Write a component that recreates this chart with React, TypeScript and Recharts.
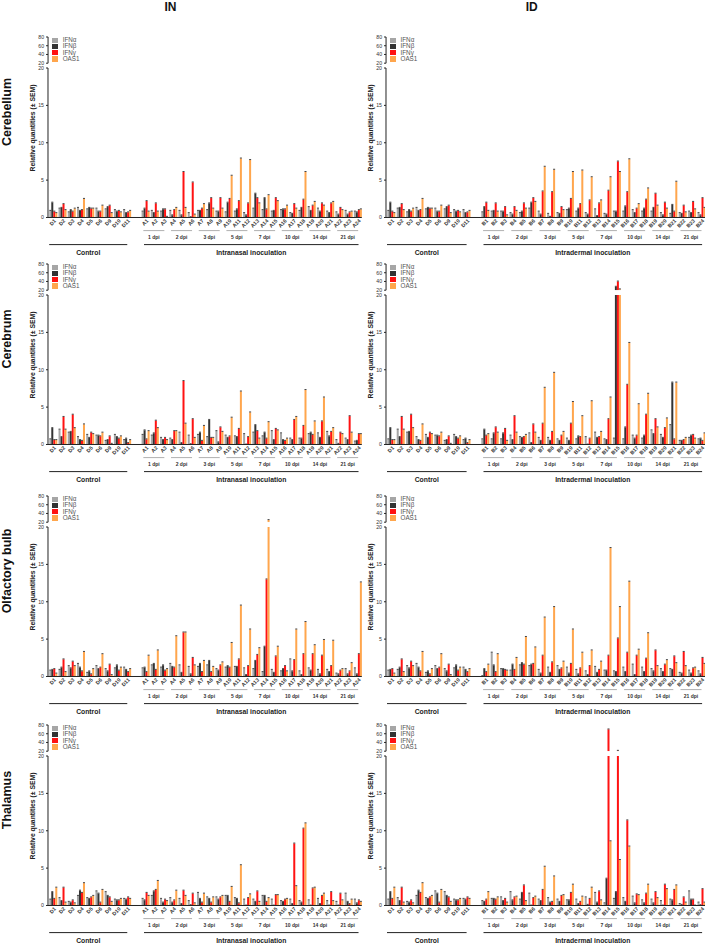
import React from "react";
import { BarChart, Bar, XAxis, YAxis } from "recharts";

// category labels
const ctrlCats = ["D1", "D2", "D3", "D4", "D5", "D6", "D9", "D10", "D11"];
const inCats = ["A1", "A2", "A3", "A4", "A5", "A6", "A7", "A8", "A9", "A10", "A11", "A12",
  "A13", "A14", "A15", "A16", "A17", "A18", "A19", "A20", "A21", "A22", "A23", "A24"];
const idCats = ["B1", "B2", "B3", "B4", "B5", "B6", "B7", "B8", "B9", "B10", "B11", "B12",
  "B13", "B14", "B15", "B16", "B17", "B18", "B19", "B20", "B21", "B22", "B23", "B24"];
const dpiGroups = ["1 dpi", "2 dpi", "3 dpi", "5 dpi", "7 dpi", "10 dpi", "14 dpi", "21 dpi"];
const lowerTicks = [0, 5, 10, 15, 20];
const upperTicks = [20, 40, 60, 80];

const SERIES = [
  { name: "IFNα", color: "#a6a6a6" },
  { name: "IFNβ", color: "#333333" },
  { name: "IFNγ", color: "#ff1212" },
  { name: "OAS1", color: "#ffa64d" },
];

// Cerebellum
const cbCtrlA = [0.9, 1.2, 0.7, 1.3, 1.1, 1.2, 1.1, 1.0, 1.0];
const cbCtrlB = [2.0, 1.3, 1.0, 0.9, 1.3, 0.8, 1.4, 0.8, 0.6];
const cbCtrlG = [0.8, 1.8, 0.8, 1.0, 1.2, 0.8, 1.6, 0.9, 0.7];
const cbCtrlO = [0.6, 1.0, 1.2, 2.5, 1.2, 1.6, 0.6, 0.7, 0.9];
const cbInA = [0.8, 0.9, 0.8, 0.9, 0.9, 0.6, 0.9, 1.0, 0.8, 0.7, 0.8, 0.6, 1.2, 1.0, 0.8, 1.0, 0.6, 0.9, 1.4, 1.2, 0.8, 0.7, 0.9, 0.8];
const cbInB = [1.2, 0.6, 1.1, 0.3, 0.3, 0.05, 0.9, 1.9, 0.8, 2.0, 1.1, 0.3, 3.2, 2.6, 0.9, 1.1, 0.5, 1.3, 0.9, 0.8, 0.6, 0.4, 0.4, 0.7];
const cbInG = [2.2, 1.9, 1.1, 1.0, 6.1, 4.7, 1.2, 2.6, 2.6, 2.5, 2.2, 1.9, 2.6, 1.1, 2.6, 1.1, 1.8, 2.4, 1.6, 1.9, 1.9, 1.3, 0.7, 1.0];
const cbInO = [0.8, 0.8, 0.1, 1.3, 1.3, 0.4, 1.8, 1.2, 1.2, 5.6, 7.9, 7.7, 1.9, 3.0, 2.2, 1.6, 1.2, 6.1, 2.1, 1.6, 2.1, 1.0, 0.8, 1.1];
const cbIdA = [0.7, 0.8, 0.8, 0.6, 0.6, 1.2, 0.8, 0.5, 0.6, 1.0, 0.8, 0.6, 1.1, 0.5, 0.8, 0.8, 1.0, 0.8, 0.8, 0.6, 0.5, 0.6, 0.8, 0.6];
const cbIdB = [1.4, 0.9, 0.8, 0.4, 0.8, 2.0, 0.4, 0.1, 0.5, 1.2, 1.2, 0.4, 0.2, 0.4, 0.8, 1.5, 0.6, 1.2, 1.3, 0.3, 1.7, 0.5, 0.6, 0.3];
const cbIdG = [2.0, 1.9, 1.4, 1.4, 1.9, 2.6, 3.5, 3.4, 1.4, 2.5, 1.8, 2.3, 1.9, 3.6, 7.5, 3.4, 1.2, 2.4, 3.2, 2.0, 0.8, 1.6, 2.1, 2.6];
const cbIdO = [0.9, 0.8, 0.3, 0.9, 1.2, 2.1, 6.8, 6.4, 1.0, 6.1, 6.3, 5.4, 2.3, 5.4, 6.1, 7.8, 1.8, 3.9, 1.6, 1.2, 4.8, 0.7, 1.1, 1.3];

// Cerebrum
const crCtrlA = [0.7, 2.0, 1.6, 1.0, 1.3, 1.2, 0.5, 1.3, 0.6];
const crCtrlB = [2.2, 1.0, 1.7, 0.6, 0.9, 1.2, 0.6, 1.0, 0.8];
const crCtrlG = [0.6, 3.7, 4.0, 0.5, 1.6, 1.1, 1.1, 0.8, 0.2];
const crCtrlO = [0.6, 2.0, 2.2, 2.7, 1.4, 1.6, 0.1, 1.1, 0.6];
const crInA = [1.3, 1.2, 0.9, 0.8, 1.6, 1.2, 1.3, 1.0, 1.8, 1.2, 1.1, 1.4, 1.6, 1.1, 1.8, 1.5, 0.8, 0.8, 1.4, 1.5, 1.7, 0.6, 0.8, 0.4];
const crInB = [1.9, 1.5, 0.6, 0.6, 0.2, 0.05, 1.6, 3.3, 0.3, 0.9, 1.0, 0.0, 2.6, 1.6, 0.6, 0.6, 0.6, 0.8, 1.6, 0.9, 1.1, 0.1, 0.6, 0.5];
const crInG = [0.7, 3.2, 0.9, 1.8, 8.5, 3.4, 0.5, 0.9, 2.3, 1.1, 2.1, 1.0, 1.8, 0.8, 2.1, 0.5, 3.3, 2.5, 1.3, 3.1, 1.7, 1.6, 3.8, 1.4];
const crInO = [1.8, 2.2, 0.6, 1.8, 2.8, 0.9, 2.5, 0.9, 1.7, 3.6, 7.1, 4.3, 0.8, 3.0, 1.9, 0.8, 3.7, 7.3, 3.1, 6.3, 2.2, 1.4, 1.6, 1.4];
const crIdA = [0.7, 0.7, 0.7, 1.2, 1.0, 1.5, 0.9, 0.9, 0.7, 0.8, 0.7, 1.0, 1.6, 0.7, 0.8, 0.7, 1.2, 0.8, 1.9, 1.3, 2.6, 0.5, 0.9, 0.7];
const crIdB = [2.0, 1.5, 1.5, 0.6, 0.9, 0.2, 0.5, 0.5, 0.5, 0.5, 1.1, 0.0, 0.9, 0.6, 28, 2.3, 0.8, 1.2, 1.4, 0.9, 8.3, 0.5, 1.2, 0.8];
const crIdG = [1.2, 2.3, 2.1, 3.8, 1.0, 2.7, 2.8, 1.7, 1.2, 2.8, 1.0, 0.8, 1.0, 3.4, 40, 8.0, 1.2, 4.0, 3.4, 2.2, 0.7, 0.6, 1.3, 0.5];
const crIdO = [1.4, 1.6, 0.5, 1.6, 1.3, 1.6, 7.6, 9.6, 1.7, 5.7, 3.8, 5.8, 1.7, 6.3, 22, 13.6, 5.4, 6.8, 2.3, 3.5, 8.3, 0.9, 0.8, 1.5];

// Olfactory bulb
const obCtrlA = [0.8, 0.9, 1.4, 1.7, 0.5, 1.4, 1.0, 1.1, 1.2];
const obCtrlB = [0.9, 1.2, 1.1, 1.2, 0.7, 1.0, 0.7, 1.5, 0.9];
const obCtrlG = [1.0, 2.3, 2.0, 0.7, 0.3, 1.2, 1.6, 0.8, 0.6];
const obCtrlO = [0.4, 0.6, 1.4, 3.3, 1.0, 3.0, 0.2, 1.2, 1.0];
const obInA = [1.1, 1.5, 1.2, 1.7, 1.5, 1.3, 1.3, 1.5, 1.0, 1.2, 1.3, 1.1, 1.0, 0.6, 0.9, 0.7, 2.3, 0.7, 1.1, 0.9, 0.9, 0.4, 1.0, 1.1];
const obInB = [1.2, 1.7, 1.5, 1.3, 0.5, 0.3, 1.7, 2.1, 0.8, 1.4, 1.3, 0.2, 2.1, 4.0, 0.5, 1.0, 0.7, 0.2, 0.8, 0.3, 0.6, 0.3, 0.3, 0.3];
const obInG = [0.6, 0.9, 0.8, 1.2, 5.9, 2.5, 0.6, 0.6, 1.5, 1.2, 2.3, 1.4, 2.9, 13.0, 2.7, 1.4, 2.2, 3.0, 3.0, 2.8, 1.4, 0.8, 0.7, 3.0];
const obInO = [2.8, 3.5, 1.0, 5.4, 5.9, 1.5, 2.1, 1.3, 1.9, 4.5, 9.5, 6.3, 3.8, 25, 4.0, 0.7, 6.3, 7.3, 4.2, 4.9, 4.8, 1.0, 1.8, 12.6];
const obIdA = [0.05, 3.2, 1.0, 0.8, 1.5, 1.4, 0.9, 1.2, 1.4, 1.2, 0.9, 0.7, 1.3, 0.8, 0.7, 1.2, 1.6, 1.2, 1.0, 1.0, 1.0, 0.5, 0.8, 0.7];
const obIdB = [1.0, 1.5, 1.0, 1.6, 1.8, 1.6, 0.4, 0.5, 0.9, 0.4, 0.3, 0.2, 0.5, 0.8, 0.6, 0.6, 0.2, 0.6, 0.7, 0.6, 0.9, 0.4, 0.4, 0.3];
const obIdG = [0.6, 0.6, 0.9, 0.9, 1.6, 1.7, 2.8, 1.9, 1.1, 1.7, 1.1, 1.4, 0.9, 2.8, 5.1, 3.2, 2.8, 2.4, 3.5, 1.6, 2.7, 3.3, 1.1, 2.5];
const obIdO = [1.6, 3.0, 0.8, 2.5, 5.3, 3.9, 7.9, 9.3, 2.0, 6.3, 3.2, 3.5, 2.0, 17.2, 9.3, 12.7, 3.6, 5.8, 1.4, 2.2, 1.8, 1.4, 1.2, 1.7];

// Thalamus
const thCtrlA = [0.8, 1.0, 0.5, 1.3, 1.0, 1.9, 1.8, 0.8, 0.9];
const thCtrlB = [1.8, 0.6, 0.4, 2.0, 0.9, 1.6, 1.3, 0.7, 0.8];
const thCtrlG = [0.9, 2.4, 0.7, 1.7, 1.1, 0.4, 1.1, 0.7, 1.1];
const thCtrlO = [2.4, 0.4, 0.3, 3.0, 1.3, 2.1, 0.5, 0.9, 0.9];
const thInA = [0.9, 1.3, 0.9, 1.0, 0.9, 0.6, 1.7, 1.1, 1.1, 1.3, 1.0, 0.8, 0.8, 1.3, 0.8, 0.6, 0.8, 0.6, 0.7, 0.9, 0.6, 0.5, 1.6, 0.8];
const thInB = [0.7, 1.9, 0.4, 0.4, 0.2, 0.05, 0.9, 0.9, 0.8, 1.3, 0.9, 0.0, 0.5, 1.3, 0.0, 0.5, 0.2, 0.4, 0.0, 0.2, 0.0, 0.0, 0.5, 0.3];
const thInG = [1.7, 2.1, 0.8, 0.7, 2.0, 1.6, 0.4, 0.4, 1.1, 0.5, 0.3, 1.0, 1.9, 0.5, 1.4, 0.8, 8.3, 10.3, 2.3, 1.3, 1.8, 1.6, 0.2, 0.7];
const thInO = [1.3, 3.3, 0.6, 2.0, 1.3, 0.3, 1.6, 1.1, 1.3, 2.5, 5.4, 1.5, 0.5, 1.0, 1.4, 0.9, 2.6, 11.0, 2.4, 1.6, 0.6, 0.7, 0.8, 0.5];
const thIdA = [0.6, 0.9, 1.1, 1.8, 0.8, 1.6, 0.8, 1.0, 0.8, 0.7, 0.8, 1.1, 1.7, 0.3, 0.9, 1.0, 1.2, 0.7, 0.8, 0.6, 0.8, 0.2, 1.9, 0.4];
const thIdB = [0.5, 0.9, 0.6, 0.7, 1.7, 0.0, 0.6, 0.4, 0.5, 0.7, 0.2, 0.1, 0.4, 3.6, 1.8, 0.5, 0.3, 0.3, 0.3, 0.0, 0.7, 0.1, 0.8, 0.05];
const thIdG = [0.8, 0.8, 0.9, 1.1, 2.7, 1.0, 2.1, 0.5, 1.3, 1.7, 0.5, 0.9, 1.9, 70, 21, 11.4, 1.5, 1.6, 1.8, 2.8, 2.1, 1.1, 0.8, 2.2];
const thIdO = [1.8, 1.1, 0.4, 1.2, 0.6, 1.2, 5.2, 3.9, 1.4, 2.8, 1.2, 2.4, 0.7, 8.6, 6.1, 7.9, 1.4, 2.8, 1.0, 2.2, 2.7, 0.4, 0.0, 0.4];

const FONT = "Arial, 'Liberation Sans', sans-serif";
const ROW_ZERO = [217, 444, 676, 905];
const COL_AXIS = [47.7, 385.5];
const COL_SLOT = [9.23, 9.4];
const Y_W = 20;
const LOW_H = 149.5;
const X_H = 22;
const UP_TOP = 180.5; // px above zero for 80
const UP_BOT = 154.3; // px above zero for upper 20

function buildRows(cats: string[], ctrl: number[][], inoc: number[][]) {
  const names = [...ctrlCats, "", ...cats];
  return names.map((cat, i) => {
    const row: any = { cat };
    for (let k = 0; k < 4; k++) {
      const v = i < 9 ? ctrl[k][i] : i === 9 ? null : inoc[k][i - 10];
      row["r" + k] = v;
      row["lo" + k] = v == null ? null : Math.min(v, 20);
      row["hi" + k] = v != null && v > 20 ? v : null;
    }
    return row;
  });
}

const tissues = [
  { name: "Cerebellum", ctrl: [cbCtrlA, cbCtrlB, cbCtrlG, cbCtrlO], IN: [cbInA, cbInB, cbInG, cbInO], ID: [cbIdA, cbIdB, cbIdG, cbIdO] },
  { name: "Cerebrum", ctrl: [crCtrlA, crCtrlB, crCtrlG, crCtrlO], IN: [crInA, crInB, crInG, crInO], ID: [crIdA, crIdB, crIdG, crIdO] },
  { name: "Olfactory bulb", ctrl: [obCtrlA, obCtrlB, obCtrlG, obCtrlO], IN: [obInA, obInB, obInG, obInO], ID: [obIdA, obIdB, obIdG, obIdO] },
  { name: "Thalamus", ctrl: [thCtrlA, thCtrlB, thCtrlG, thCtrlO], IN: [thInA, thInB, thInG, thInO], ID: [thIdA, thIdB, thIdG, thIdO] },
];

const CapBar = (props: any) => {
  const { x, y, width, height, fill, capped } = props;
  if (x == null || y == null || height == null || height < 0) return <g />;
  return (
    <g>
      <rect x={x} y={y} width={width} height={height} fill={fill} />
      {capped ? <rect x={x} y={y - 0.9} width={width} height={1} fill="#444" /> : null}
    </g>
  );
};

const CatTick = (props: any) => {
  const { x, y, payload } = props;
  if (!payload || !payload.value) return <g />;
  const tx = x + 2.5;
  const ty = y + 2.5;
  return (
    <text x={tx} y={ty} transform={`rotate(-45 ${tx} ${ty})`} textAnchor="end" dy="0.35em"
      fontSize={5.2} fontWeight="bold" fill="#333" fontFamily={FONT}>
      {payload.value}
    </text>
  );
};

const yTick = { fontSize: 5.2, fill: "#333", fontFamily: FONT };

function Panel({ row, col }: { row: number; col: number }) {
  const t = tissues[row];
  const inoc = col === 0 ? t.IN : t.ID;
  const cats = col === 0 ? inCats : idCats;
  const data = buildRows(cats, t.ctrl, inoc);
  const axisX = COL_AXIS[col];
  const slot = COL_SLOT[col];
  const zero = ROW_ZERO[row];
  const chartW = Y_W + 34 * slot;
  const left = axisX - Y_W;
  const upH = UP_TOP - UP_BOT;

  return (
    <>
      <div style={{ position: "absolute", left, top: zero - UP_TOP - 4 }}>
        <BarChart width={chartW} height={4 + upH + 2} data={data}
          margin={{ top: 4, right: 0, left: 0, bottom: 2 }} barCategoryGap="14%" barGap={0}>
          <XAxis dataKey="cat" hide />
          <YAxis type="number" domain={[20, 80]} ticks={upperTicks} allowDataOverflow interval={0}
            width={Y_W} tick={yTick} tickSize={2} stroke="#222" />
          {SERIES.map((s, k) => (
            <Bar key={s.name} dataKey={"hi" + k} fill={s.color} isAnimationActive={false}
              shape={(p: any) => <CapBar {...p} capped />} />
          ))}
        </BarChart>
      </div>
      <div style={{ position: "absolute", left, top: zero - LOW_H - 4 }}>
        <BarChart width={chartW} height={4 + LOW_H + X_H} data={data}
          margin={{ top: 4, right: 0, left: 0, bottom: 0 }} barCategoryGap="14%" barGap={0}>
          <XAxis dataKey="cat" interval={0} tickLine={false} tickSize={0} tickMargin={0}
            tick={<CatTick />} height={X_H} stroke="#222" />
          <YAxis type="number" domain={[0, 20]} ticks={lowerTicks} allowDataOverflow interval={0}
            width={Y_W} tick={yTick} tickSize={2} stroke="#222" />
          {SERIES.map((s, k) => (
            <Bar key={s.name} dataKey={"lo" + k} fill={s.color} isAnimationActive={false}
              shape={(p: any) => <CapBar {...p} capped={p.payload && p.payload["r" + k] != null && p.payload["r" + k] <= 20} />} />
          ))}
        </BarChart>
      </div>
      <div style={{ position: "absolute", left: axisX + 4, top: zero - 180, fontFamily: FONT }}>
        {SERIES.map((s) => (
          <div key={s.name} style={{ display: "flex", alignItems: "center", height: 6.3 }}>
            <div style={{ width: 6.5, height: 5.2, background: s.color, marginRight: 4.5 }} />
            <span style={{ fontSize: 6.3, color: "#555", lineHeight: "6.3px" }}>{s.name}</span>
          </div>
        ))}
      </div>
    </>
  );
}

function Annotations() {
  const items: React.ReactNode[] = [];
  ROW_ZERO.forEach((zero, row) => {
    COL_AXIS.forEach((axisX, col) => {
      const slot = COL_SLOT[col];
      const sx = (i: number) => axisX + (i + 0.5) * slot;
      const key = `${row}-${col}`;
      dpiGroups.forEach((g, k) => {
        const cx = sx(10 + 3 * k + 1);
        items.push(<line key={key + "gl" + k} x1={cx - 10.5} x2={cx + 10.5} y1={zero + 13.6} y2={zero + 13.6} stroke="#9a9a9a" strokeWidth={0.8} />);
        items.push(<text key={key + "gt" + k} x={cx} y={zero + 20.3} dy="0.35em" textAnchor="middle" fontSize={5} fontWeight="bold" fill="#333" fontFamily={FONT}>{g}</text>);
      });
      const c1 = axisX + 1.5, c2 = axisX + 9 * slot - 3.5;
      const i1 = axisX + 10 * slot + 4, i2 = axisX + 34 * slot - 3;
      items.push(<line key={key + "cl"} x1={c1} x2={c2} y1={zero + 27.6} y2={zero + 27.6} stroke="#222" strokeWidth={1} />);
      items.push(<line key={key + "il"} x1={i1} x2={i2} y1={zero + 27.6} y2={zero + 27.6} stroke="#222" strokeWidth={1} />);
      items.push(<text key={key + "ct"} x={(c1 + c2) / 2} y={zero + 36} dy="0.35em" textAnchor="middle" fontSize={6.8} fontWeight="bold" fill="#222" fontFamily={FONT}>Control</text>);
      items.push(<text key={key + "it"} x={(i1 + i2) / 2} y={zero + 36} dy="0.35em" textAnchor="middle" fontSize={6.8} fontWeight="bold" fill="#222" fontFamily={FONT}>
        {col === 0 ? "Intranasal inoculation" : "Intradermal inoculation"}</text>);
      const tx = axisX - 15, ty = zero - 89;
      items.push(<text key={key + "yt"} x={tx} y={ty} dy="0.35em" textAnchor="middle" transform={`rotate(-90 ${tx} ${ty})`} fontSize={6.8} fontWeight="bold" fill="#222" fontFamily={FONT}>Relative quantities (± SEM)</text>);
    });
    const rx = 6.5, ry = zero - 105;
    items.push(<text key={"row" + row} x={rx} y={ry} dy="0.35em" textAnchor="middle" transform={`rotate(-90 ${rx} ${ry})`} fontSize={12.5} fontWeight="bold" fill="#111" fontFamily={FONT}>{tissues[row].name}</text>);
  });
  return (
    <svg width={709} height={945} style={{ position: "absolute", left: 0, top: 0, pointerEvents: "none" }}>
      <text x={170.5} y={6.5} dy="0.35em" textAnchor="middle" fontSize={12} fontWeight="bold" fill="#111" fontFamily={FONT}>IN</text>
      <text x={531.7} y={6.5} dy="0.35em" textAnchor="middle" fontSize={12} fontWeight="bold" fill="#111" fontFamily={FONT}>ID</text>
      {items}
    </svg>
  );
}

export default function App() {
  return (
    <div style={{ position: "absolute", left: 0, top: 0, width: 709, height: 945, background: "#fff", fontFamily: FONT }}>
      {[0, 1, 2, 3].map((row) => (
        <React.Fragment key={row}>
          <Panel row={row} col={0} />
          <Panel row={row} col={1} />
        </React.Fragment>
      ))}
      <Annotations />
    </div>
  );
}
